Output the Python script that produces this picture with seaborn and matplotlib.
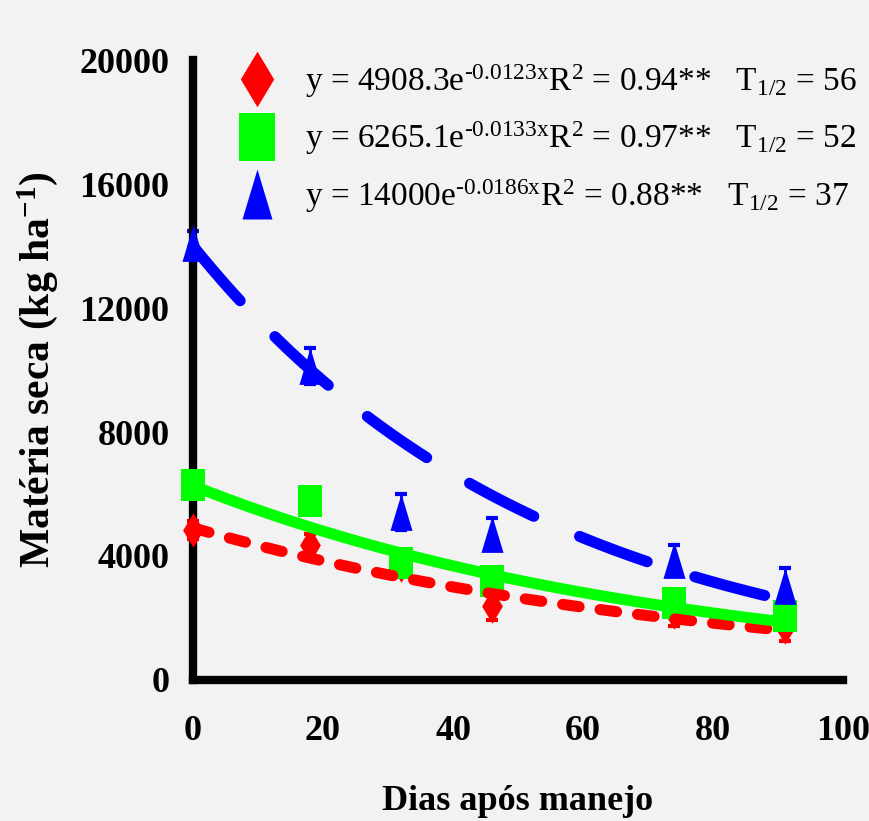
import numpy as np
import pandas as pd
import matplotlib
matplotlib.use("Agg")
import matplotlib.pyplot as plt
from matplotlib.lines import Line2D
import seaborn as sns

# Dry-matter decomposition of three cover crops after management
days = [0, 18, 32, 46, 74, 91]

red_vals = [4840, 4350, 3700, 2390, 2190, 1710]
green_vals = [6290, 5770, 3770, 3190, 2500, 2060]
blue_vals = [14100, 10130, 5420, 4700, 3870, 3030]

red_err = [300, 350, 250, 450, 450, 450]
green_err = [250, 300, 250, 250, 200, 250]
blue_err = [390, 580, 580, 520, 500, 580]

# Exponential fits y = a * exp(-b x)
fit_a = [4908.3, 6265.1, 14000]
fit_b = [0.0123, 0.0133, 0.0186]
fit_r2 = [0.94, 0.97, 0.88]
fit_a_text = ["4908.3", "6265.1", "14000"]

x_ticks = [0, 20, 40, 60, 80, 100]
y_ticks = [0, 4000, 8000, 12000, 16000, 20000]

colors = ["#ff0000", "#00ff00", "#0000ff"]
series = [red_vals, green_vals, blue_vals]
errors = [red_err, green_err, blue_err]

# Marker shapes: tall diamond, tall rectangle, tall triangle
diamond = [(0, 1), (0.6, 0), (0, -1), (-0.6, 0), (0, 1)]
rect = [(-0.75, -1), (0.75, -1), (0.75, 1), (-0.75, 1), (-0.75, -1)]
triangle = [(0, 1), (-0.6, -1), (0.6, -1), (0, 1)]
markers = [diamond, rect, triangle]
marker_s = [620, 520, 700]

line_styles = [(0, (1.5, 1.9)), "-", (0, (6.5, 4.5))]

bg = "#f2f2f2"
sns.set_style("white")
plt.rcParams["font.family"] = ["Liberation Serif", "DejaVu Serif"]
plt.rcParams["mathtext.fontset"] = "custom"
plt.rcParams["mathtext.rm"] = "Liberation Serif"
plt.rcParams["mathtext.it"] = "Liberation Serif:italic"
plt.rcParams["mathtext.bf"] = "Liberation Serif:bold"
for key in ["text.color", "axes.labelcolor", "xtick.color", "ytick.color"]:
    plt.rcParams[key] = "black"

fig = plt.figure(figsize=(8.69, 8.21), dpi=100, facecolor=bg)
ax = fig.add_axes([193 / 869, 1 - 680 / 821, 650 / 869, 620 / 821])
ax.set_facecolor(bg)

for vals, err, c in zip(series, errors, colors):
    ax.errorbar(days, vals, yerr=err, fmt="none", ecolor=c, elinewidth=2,
                capsize=4, capthick=3, zorder=2, clip_on=False)

for vals, c, m, s in zip(series, colors, markers, marker_s):
    sns.scatterplot(x=days, y=vals, color=c, marker=m, s=s, linewidth=0,
                    ax=ax, zorder=3, clip_on=False, legend=False)

x_fit = np.linspace(0, 91, 300)
for a, b, c, ls, z in zip(fit_a, fit_b, colors, line_styles, [4, 5, 6]):
    sns.lineplot(x=x_fit, y=a * np.exp(-b * x_fit), color=c, linewidth=8,
                 linestyle=ls, dash_capstyle="round", solid_capstyle="butt",
                 ax=ax, zorder=z, clip_on=False, legend=False)

ax.set_xlim(0, 100)
ax.set_ylim(0, 20000)
ax.set_xticks(x_ticks)
ax.set_yticks(y_ticks)
ax.set_xticklabels([str(t) for t in x_ticks])
ax.set_yticklabels([str(t) for t in y_ticks])

for side in ["top", "right"]:
    ax.spines[side].set_visible(False)
for side in ["left", "bottom"]:
    ax.spines[side].set_linewidth(6)
    ax.spines[side].set_color("black")
    ax.spines[side].set_capstyle("projecting")

ax.tick_params(axis="both", direction="out", length=5, width=6, color="black",
               labelsize=26)
ax.tick_params(axis="y", pad=12)
ax.tick_params(axis="x", pad=20)
for lab in ax.get_xticklabels() + ax.get_yticklabels():
    lab.set_fontweight("bold")

ax.set_xlabel("Dias após manejo", fontsize=26, fontweight="bold", labelpad=27)
ax.set_ylabel("Matéria seca (kg ha$^{\\mathbf{-1}}$)", fontsize=30,
              fontweight="bold", labelpad=14)

labels = []
for a_txt, b, r2 in zip(fit_a_text, fit_b, fit_r2):
    half = np.log(2) / b
    labels.append(
        "y = " + a_txt + "e$^{\\mathrm{\u2010" + f"{b:.4f}" + "x}}$R$^{\\mathrm{2}}$"
        + f" = {r2:.2f}**   " + "T$_{\\mathrm{1/2}}$" + f" = {half:.0f}"
    )

leg_sizes = [40, 35, 36]
handles = [Line2D([], [], linestyle="none", marker=m, markersize=ms, color=c,
                  markeredgewidth=0)
           for m, ms, c in zip(markers, leg_sizes, colors)]
leg = ax.legend(handles, labels, loc="upper left",
                bbox_to_anchor=(240 / 869, 1 - 62 / 821),
                bbox_transform=fig.transFigure, frameon=False, fontsize=24,
                handlelength=1.0, handletextpad=0.95, labelspacing=0.6,
                borderpad=0, borderaxespad=0)

fig.savefig("out.png", dpi=100, facecolor=bg)
